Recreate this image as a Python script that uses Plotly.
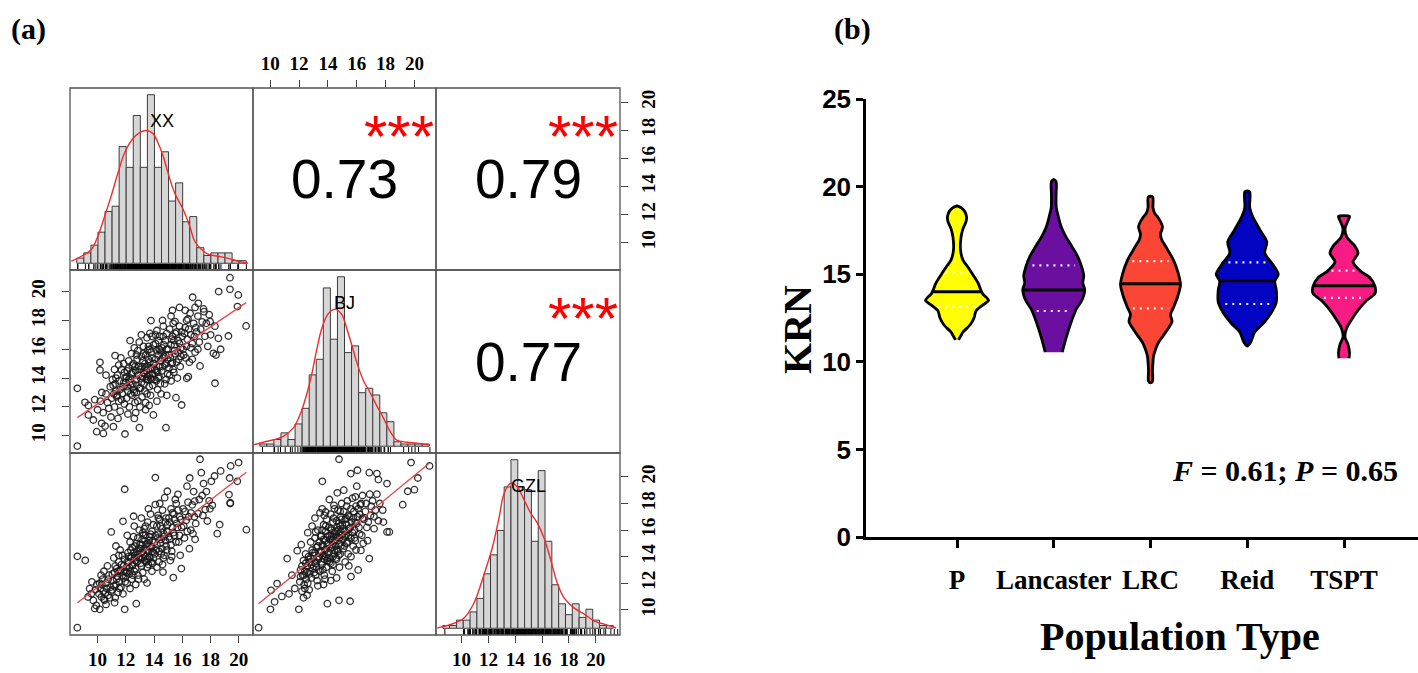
import numpy as np
import plotly.graph_objects as go

W, H = 1418, 673

# ======================= DATA: panel (a) =======================
variables = ["XX", "BJ", "GZL"]
axis_ticks = [10, 12, 14, 16, 18, 20]
variable_range = {"XX": [8.05, 21.0], "BJ": [8.8, 21.5], "GZL": [8.1, 21.8]}

correlations = {("XX", "BJ"): 0.73, ("XX", "GZL"): 0.79, ("BJ", "GZL"): 0.77}
significance = "***"

hist_bin_width = 0.5
hist_first_break = {"XX": 8.5, "BJ": 9.0, "GZL": 8.5}
hist_counts_xx = [2, 4, 7, 12, 20, 22, 45, 37, 57, 37, 65, 37, 43, 24, 31, 16, 18, 6, 3, 4, 4, 4, 1, 1]
hist_counts_bj = [1, 1, 3, 6, 3, 10, 17, 32, 39, 71, 48, 76, 42, 45, 24, 26, 23, 15, 11, 2, 1, 1, 1, 1]
hist_counts_gzl = [1, 1, 3, 3, 6, 11, 20, 27, 36, 52, 62, 52, 51, 32, 58, 32, 16, 9, 5, 9, 4, 7, 3, 1, 1]

density_xx_x = [8.11, 8.82, 9.53, 10.0, 10.48, 10.94, 11.42, 11.89, 12.48, 12.96, 13.42, 13.9, 14.25,
                14.61, 14.96, 15.43, 16.02, 16.5, 16.85, 17.32, 17.79, 18.5, 19.21, 19.92, 20.63]
density_xx_y = [0.8, 2.7, 5.3, 10.5, 18.2, 26.0, 34.9, 42.6, 48.1, 50.4, 51.2, 50.0, 46.5,
                41.5, 34.9, 27.1, 20.9, 14.3, 8.5, 5.4, 3.5, 2.7, 1.9, 0.8, 0.0]
density_bj_x = [8.54, 9.25, 9.96, 10.67, 11.37, 11.85, 12.32, 12.68, 13.03, 13.39, 13.86, 14.33, 14.8,
                15.16, 15.51, 15.86, 16.33, 16.81, 17.28, 17.75, 18.22, 18.7, 19.41, 20.11, 21.06]
density_bj_y = [0.6, 1.8, 2.9, 4.4, 8.2, 14.1, 23.2, 32.3, 43.2, 52.8, 59.6, 61.4, 59.2,
                52.8, 45.5, 37.8, 29.6, 24.1, 18.2, 12.7, 6.8, 2.7, 1.8, 1.4, 0.5]
density_gzl_x = [8.1, 9.08, 10.06, 10.79, 11.53, 12.14, 12.63, 13.0, 13.49, 13.98, 14.47, 14.96,
                 15.45, 15.94, 16.43, 16.92, 17.41, 18.15, 18.88, 19.62, 20.35, 21.21]
density_gzl_y = [0.1, 1.4, 3.8, 9.4, 19.9, 29.8, 40.8, 49.7, 53.4, 51.9, 47.1, 42.3,
                 38.6, 33.0, 24.9, 16.3, 11.1, 7.4, 5.2, 2.6, 1.5, 0.1]

# scatter points (XX, BJ)
pts_xx_bj = [
    (8.57, 9.28), (8.57, 13.29), (9.11, 12.32), (9.35, 12.1), (9.35, 11.44), (9.7, 11.09), (9.94, 10.28),
    (10.41, 10.16), (10.53, 10.67), (10.29, 10.86), (11.12, 10.63), (11.94, 10.12), (12.96, 10.56),
    (13.95, 11.44), (14.84, 10.56), (10.17, 15.09), (10.17, 14.56), (10.6, 14.21), (11.24, 15.56),
    (13.78, 17.99), (14.42, 15.95), (15.48, 17.92), (16.73, 19.61), (17.13, 19.19), (17.53, 18.61),
    (17.96, 17.92), (18.57, 20.0), (19.37, 20.16), (19.37, 20.97), (19.96, 19.77), (19.9, 18.96),
    (20.51, 17.62), (19.26, 16.92), (18.71, 16.0), (18.31, 13.64), (18.38, 15.6), (18.55, 16.76),
    (18.2, 15.72), (17.25, 14.84), (16.31, 13.98), (15.55, 12.64), (15.95, 12.13), (16.42, 14.1),
    (9.8, 12.5), (10.0, 11.8), (10.2, 12.4), (10.4, 11.6), (10.6, 12.9), (10.8, 11.9), (10.9, 13.4),
    (10.7, 12.3), (10.3, 13.0), (10.95, 11.3),
    (11.0, 12.6), (11.1, 13.5), (11.2, 12.0), (11.3, 13.1), (11.4, 14.2), (11.5, 12.4), (11.55, 13.8),
    (11.6, 11.7), (11.7, 14.6), (11.75, 12.9), (11.8, 13.4), (11.85, 15.0), (11.9, 12.2), (11.95, 14.0),
    (11.2, 14.6), (11.45, 11.2), (11.65, 15.4), (11.35, 12.7),
    (12.0, 13.7), (12.05, 12.6), (12.1, 14.5), (12.15, 13.1), (12.2, 15.2), (12.25, 12.0), (12.3, 14.0),
    (12.35, 13.5), (12.4, 15.7), (12.45, 12.8), (12.5, 14.4), (12.55, 13.2), (12.6, 16.1), (12.65, 14.8),
    (12.7, 11.6), (12.75, 13.9), (12.8, 15.3), (12.85, 12.4), (12.9, 14.2), (12.95, 16.5), (12.3, 16.6),
    (12.6, 11.2), (12.15, 11.5), (12.85, 15.9), (12.45, 14.9), (12.75, 13.0),
    (13.0, 14.6), (13.05, 13.3), (13.1, 15.5), (13.15, 12.7), (13.2, 14.1), (13.25, 16.2), (13.3, 13.6),
    (13.35, 15.0), (13.4, 12.3), (13.45, 14.5), (13.5, 16.8), (13.55, 13.9), (13.6, 15.3), (13.65, 14.2),
    (13.7, 17.1), (13.75, 12.8), (13.8, 15.8), (13.85, 14.7), (13.9, 13.5), (13.95, 16.3), (13.1, 17.0),
    (13.4, 11.8), (13.65, 12.1), (13.25, 14.4), (13.55, 15.9), (13.85, 16.9), (13.0, 12.0), (13.75, 14.0),
    (14.0, 15.0), (14.05, 13.9), (14.1, 16.4), (14.15, 14.5), (14.2, 17.3), (14.25, 13.2), (14.3, 15.6),
    (14.35, 14.1), (14.4, 16.9), (14.45, 15.2), (14.5, 12.9), (14.55, 16.1), (14.6, 14.8), (14.65, 17.6),
    (14.7, 15.5), (14.75, 13.6), (14.8, 16.6), (14.85, 15.0), (14.9, 17.1), (14.95, 14.3), (14.2, 12.4),
    (14.6, 18.0), (14.35, 16.0), (14.9, 12.8),
    (15.0, 16.0), (15.05, 14.7), (15.1, 17.4), (15.15, 15.4), (15.2, 13.8), (15.25, 16.7), (15.3, 15.1),
    (15.35, 17.8), (15.4, 14.4), (15.45, 16.3), (15.5, 15.7), (15.6, 17.2), (15.65, 14.0), (15.7, 16.6),
    (15.75, 15.3), (15.8, 17.6), (15.85, 14.8), (15.9, 16.1), (15.2, 18.3),
    (16.0, 16.9), (16.1, 15.6), (16.2, 17.5), (16.3, 16.2), (16.4, 18.1), (16.5, 15.1), (16.6, 17.0),
    (16.7, 16.4), (16.8, 17.8), (16.9, 15.8), (16.55, 18.5),
    (17.0, 17.2), (17.2, 16.5), (17.4, 17.9), (17.6, 16.9), (17.8, 16.2), (17.5, 18.8), (18.0, 17.0),
    (18.3, 17.6), (17.1, 18.3), (16.9, 18.9), (16.2, 18.7), (15.8, 18.9), (15.3, 18.7),
    (11.05, 13.9), (11.15, 12.9), (11.25, 13.6), (11.4, 12.8), (11.5, 14.9), (11.6, 13.2), (11.7, 12.5),
    (11.85, 13.7), (11.9, 14.4), (11.3, 14.0),
    (12.05, 14.1), (12.1, 13.4), (12.2, 14.7), (12.25, 13.7), (12.35, 12.9), (12.4, 14.3), (12.5, 13.6),
    (12.55, 15.0), (12.6, 13.0), (12.7, 14.5), (12.75, 15.6), (12.8, 13.5), (12.9, 14.8), (12.95, 13.3),
    (12.2, 13.9), (12.65, 12.3),
    (13.05, 14.0), (13.1, 13.7), (13.15, 14.8), (13.2, 15.2), (13.3, 14.3), (13.35, 13.1), (13.4, 15.6),
    (13.45, 13.9), (13.5, 14.8), (13.55, 14.1), (13.6, 16.2), (13.65, 13.4), (13.7, 15.1), (13.75, 14.6),
    (13.8, 13.9), (13.85, 15.4), (13.9, 14.3), (13.95, 15.0), (13.25, 15.7), (13.5, 12.9), (13.7, 16.0),
    (13.35, 14.7),
    (14.05, 14.6), (14.1, 15.3), (14.15, 13.8), (14.2, 15.9), (14.25, 14.4), (14.3, 16.6), (14.4, 14.8),
    (14.45, 13.6), (14.5, 15.8), (14.55, 14.5), (14.6, 15.4), (14.7, 16.3), (14.75, 14.9), (14.8, 15.6),
    (14.85, 13.9), (14.9, 16.0), (14.95, 15.3), (14.3, 14.0), (14.65, 16.9), (14.1, 17.0),
    (15.05, 15.6), (15.1, 14.2), (15.2, 16.3), (15.25, 15.0), (15.3, 16.9), (15.35, 14.6), (15.45, 15.9),
    (15.5, 17.1), (15.6, 15.1), (15.7, 15.8), (15.8, 16.4), (15.9, 15.5), (15.95, 17.2), (15.4, 16.6),
    (16.05, 16.0), (16.15, 17.1), (16.25, 15.4), (16.35, 16.7), (16.45, 17.4), (16.6, 16.1), (16.7, 15.3),
    (16.85, 16.9), (16.95, 17.5), (16.3, 18.0),
    (17.1, 16.0), (17.3, 17.4), (17.7, 17.8), (17.9, 18.4),
]

# scatter points (XX, GZL)
pts_xx_gzl = [
    (8.57, 8.65), (8.57, 14.02), (9.13, 13.72), (9.32, 10.96), (9.44, 11.59), (9.56, 11.21), (9.91, 10.33),
    (9.7, 10.7), (9.85, 11.5), (9.6, 12.1), (9.95, 11.9), (9.8, 10.1),
    (10.15, 10.03), (10.27, 10.96), (10.5, 10.71), (10.74, 11.09), (10.2, 11.6), (10.35, 12.3), (10.4, 11.4),
    (10.6, 12.0), (10.55, 11.25), (10.8, 12.6), (10.9, 11.7), (10.45, 12.9), (10.7, 13.3), (10.97, 15.86),
    (10.85, 10.9), (10.25, 12.6),
    (11.21, 10.53), (11.05, 11.5), (11.1, 12.2), (11.2, 12.8), (11.3, 11.9), (11.35, 13.1), (11.4, 12.5),
    (11.45, 11.3), (11.5, 13.6), (11.55, 12.1), (11.6, 12.9), (11.65, 11.7), (11.7, 13.4), (11.75, 14.1),
    (11.8, 16.66), (11.85, 12.4), (11.9, 13.8), (11.92, 10.03), (11.92, 19.07), (11.95, 12.9), (11.15, 13.9),
    (11.6, 14.5), (11.3, 14.8), (11.8, 11.2),
    (12.05, 13.2), (12.1, 12.0), (12.15, 14.3), (12.2, 13.6), (12.25, 12.7), (12.3, 15.1), (12.35, 13.9),
    (12.4, 12.3), (12.45, 14.7), (12.5, 13.4), (12.55, 17.04), (12.55, 15.5), (12.6, 12.9), (12.65, 14.1),
    (12.7, 13.7), (12.74, 10.46), (12.75, 15.0), (12.8, 14.4), (12.85, 12.6), (12.9, 13.9), (12.95, 16.0),
    (12.3, 11.6), (12.1, 15.6), (12.6, 16.3), (12.85, 15.4), (12.4, 14.0), (12.0, 12.5), (12.7, 11.9),
    (13.05, 14.6), (13.1, 13.3), (13.15, 15.3), (13.2, 12.8), (13.25, 14.2), (13.3, 16.1), (13.35, 13.7),
    (13.4, 15.6), (13.45, 14.9), (13.5, 12.02), (13.52, 13.2), (13.55, 16.6), (13.6, 14.4), (13.65, 15.2),
    (13.7, 13.9), (13.75, 17.2), (13.8, 14.7), (13.85, 15.9), (13.9, 13.5), (13.95, 16.4), (13.1, 16.9),
    (13.3, 12.3), (13.6, 17.6), (13.85, 12.9), (13.2, 15.8), (13.4, 14.0), (13.7, 15.5), (13.95, 14.3),
    (13.55, 13.8), (13.0, 13.9),
    (14.05, 15.1), (14.09, 17.92), (14.09, 19.95), (14.15, 14.5), (14.2, 16.3), (14.28, 17.11), (14.3, 15.7),
    (14.35, 13.6), (14.4, 16.8), (14.45, 15.0), (14.5, 14.2), (14.55, 16.1), (14.6, 17.5), (14.63, 12.84),
    (14.7, 15.5), (14.75, 18.44), (14.8, 16.6), (14.85, 14.8), (14.9, 15.9), (14.94, 18.92), (14.98, 15.86),
    (14.2, 13.2), (14.65, 13.9), (14.4, 18.0),
    (15.05, 16.9), (15.1, 15.3), (15.2, 17.6), (15.25, 14.4), (15.3, 16.2), (15.36, 12.42), (15.4, 17.2),
    (15.45, 15.6), (15.5, 18.3), (15.57, 17.99), (15.6, 16.5), (15.69, 18.69), (15.75, 15.1), (15.8, 17.0),
    (15.85, 14.1), (15.93, 13.1), (15.95, 16.2), (15.15, 13.7),
    (16.05, 17.6), (16.15, 15.4), (16.28, 16.73), (16.33, 19.3), (16.4, 18.1), (16.52, 19.92), (16.6, 17.3),
    (16.75, 15.73), (16.8, 18.9), (16.87, 18.17), (16.95, 16.5), (16.5, 14.6),
    (17.11, 17.24), (17.25, 21.33), (17.34, 20.32), (17.4, 18.6), (17.62, 17.54), (17.77, 16.68), (17.5, 19.5),
    (17.9, 18.2),
    (18.05, 19.67), (18.12, 17.86), (18.28, 20.07), (18.47, 15.73), (18.64, 16.41), (18.71, 20.45),
    (19.3, 18.67), (19.35, 19.92), (19.39, 18.06), (19.42, 20.83), (19.89, 19.67), (19.98, 21.08),
    (20.53, 16.03), (19.39, 18.0),
    (10.1, 11.2), (10.3, 11.9), (10.45, 10.8), (10.65, 11.6), (10.75, 12.3), (10.95, 11.4), (10.15, 12.0),
    (10.6, 10.4),
    (11.05, 12.7), (11.15, 11.8), (11.25, 13.3), (11.35, 12.3), (11.45, 12.9), (11.55, 11.6), (11.65, 13.0),
    (11.75, 12.6), (11.85, 13.3), (11.95, 12.1), (11.5, 14.1), (11.25, 10.9),
    (12.05, 12.8), (12.1, 13.6), (12.2, 14.0), (12.3, 12.9), (12.35, 14.5), (12.45, 13.3), (12.5, 12.6),
    (12.6, 13.9), (12.65, 14.8), (12.7, 13.1), (12.8, 13.6), (12.85, 14.2), (12.9, 12.3), (12.95, 14.6),
    (12.25, 13.2), (12.55, 14.3),
    (13.05, 13.5), (13.1, 14.3), (13.15, 14.9), (13.2, 13.9), (13.3, 14.6), (13.35, 15.2), (13.45, 13.6),
    (13.5, 14.5), (13.55, 15.0), (13.6, 13.4), (13.65, 14.0), (13.75, 15.7), (13.8, 13.6), (13.85, 14.4),
    (13.9, 15.2), (13.95, 13.9), (13.4, 16.3), (13.7, 14.8), (13.25, 15.6), (13.0, 14.9),
    (14.05, 14.2), (14.1, 15.6), (14.2, 14.9), (14.25, 15.4), (14.35, 14.4), (14.45, 16.3), (14.5, 15.3),
    (14.55, 14.6), (14.65, 15.8), (14.7, 14.1), (14.8, 15.2), (14.85, 16.9), (14.9, 14.5), (14.95, 16.4),
    (14.3, 16.9), (14.6, 13.4),
    (15.05, 15.5), (15.1, 16.6), (15.2, 14.9), (15.3, 17.3), (15.35, 15.8), (15.45, 16.8), (15.55, 15.1),
    (15.65, 16.2), (15.7, 17.5), (15.8, 15.6), (15.9, 16.8), (15.25, 14.0),
    (16.1, 16.3), (16.2, 17.4), (16.35, 15.9), (16.45, 17.0), (16.6, 16.0), (16.7, 17.9), (16.85, 17.0),
    (16.9, 15.3),
    (17.2, 18.3), (17.45, 17.1), (17.7, 18.9), (17.95, 17.6),
]

# scatter points (BJ, GZL)
pts_bj_gzl = [
    (9.19, 8.65), (10.01, 10.03), (10.05, 11.46), (10.47, 11.97), (10.3, 10.6), (10.8, 11.0), (11.17, 13.85),
    (11.98, 10.03), (11.3, 11.2), (11.5, 12.6), (11.87, 14.45), (11.7, 11.6), (13.96, 10.46), (14.77, 10.71),
    (15.54, 10.64), (13.61, 19.67), (14.77, 21.33), (13.84, 17.36), (14.42, 17.86), (13.15, 15.86),
    (15.59, 20.25), (16.05, 20.5), (16.87, 20.32), (17.4, 20.25), (17.5, 19.8), (18.1, 19.5), (17.4, 18.7),
    (16.9, 18.7), (16.4, 18.6), (15.9, 18.5), (16.0, 19.3), (19.77, 21.08), (21.05, 20.83), (20.24, 19.92),
    (20.0, 19.04), (19.54, 18.92), (19.19, 17.91), (18.26, 15.86), (18.1, 15.86), (17.2, 16.1), (16.75, 15.2),
    (16.29, 14.47), (16.87, 13.85), (16.1, 13.0), (15.6, 12.5),
    (12.05, 12.1), (12.1, 13.0), (12.2, 11.4), (12.25, 12.6), (12.3, 13.7), (12.35, 11.9), (12.4, 12.9),
    (12.45, 14.2), (12.5, 12.3), (12.15, 14.9), (12.3, 10.9),
    (12.55, 13.3), (12.6, 12.0), (12.65, 14.0), (12.7, 12.7), (12.75, 13.6), (12.8, 15.1), (12.85, 12.4),
    (12.9, 14.5), (12.95, 13.1), (12.6, 15.8), (12.7, 11.5), (12.9, 16.3), (12.8, 13.9), (12.55, 11.1),
    (13.0, 14.1), (13.05, 12.8), (13.1, 15.4), (13.15, 13.5), (13.2, 14.7), (13.25, 12.2), (13.3, 16.0),
    (13.35, 13.9), (13.4, 15.1), (13.45, 12.9), (13.5, 14.4), (13.1, 16.9), (13.3, 11.8), (13.45, 17.3),
    (13.2, 13.2), (13.4, 14.0),
    (13.55, 15.6), (13.6, 13.4), (13.65, 14.8), (13.7, 16.4), (13.75, 12.6), (13.8, 15.2), (13.85, 14.0),
    (13.9, 16.8), (13.95, 13.7), (13.6, 17.6), (13.7, 11.9), (13.85, 15.9), (13.55, 14.3), (13.9, 14.6),
    (13.75, 17.1), (13.65, 13.0), (13.95, 15.5), (13.8, 12.3),
    (14.0, 15.0), (14.05, 16.2), (14.1, 13.6), (14.15, 14.6), (14.2, 17.2), (14.25, 15.5), (14.3, 12.9),
    (14.35, 16.6), (14.4, 14.2), (14.45, 15.8), (14.1, 18.3), (14.2, 12.2), (14.3, 14.9), (14.45, 17.6),
    (14.0, 13.9), (14.25, 16.0), (14.35, 13.4), (14.15, 15.3),
    (14.5, 15.2), (14.55, 13.9), (14.6, 16.7), (14.65, 14.5), (14.7, 17.5), (14.75, 15.7), (14.8, 13.2),
    (14.85, 16.3), (14.9, 14.8), (14.95, 18.0), (14.6, 12.4), (14.7, 16.0), (14.8, 15.0), (14.9, 17.0),
    (14.55, 15.9), (14.75, 14.1), (14.65, 18.8), (14.95, 15.6),
    (15.0, 16.4), (15.05, 14.6), (15.1, 17.4), (15.15, 15.5), (15.2, 13.6), (15.25, 16.9), (15.3, 15.0),
    (15.35, 18.2), (15.4, 14.2), (15.45, 16.1), (15.1, 19.0), (15.3, 17.8), (15.2, 15.9), (15.45, 13.3),
    (15.5, 17.0), (15.6, 15.4), (15.65, 16.6), (15.7, 18.4), (15.75, 14.8), (15.8, 17.4), (15.85, 16.0),
    (15.9, 15.2), (15.95, 17.8), (15.6, 14.0),
    (16.0, 16.5), (16.1, 17.6), (16.2, 15.7), (16.3, 18.0), (16.4, 16.9), (16.45, 15.0), (16.2, 17.2),
    (16.6, 17.4), (16.8, 16.6), (17.0, 17.8), (17.2, 17.0), (17.5, 16.7), (17.8, 17.5),
    (12.1, 12.5), (12.2, 13.3), (12.35, 12.6), (12.45, 13.5), (12.55, 12.8), (12.65, 13.8), (12.75, 12.9),
    (12.85, 13.4), (12.95, 14.3), (12.4, 11.6),
    (13.05, 13.6), (13.1, 14.3), (13.15, 12.6), (13.25, 13.8), (13.3, 14.8), (13.35, 13.0), (13.45, 14.4),
    (13.5, 15.5),
    (13.55, 13.6), (13.6, 14.9), (13.65, 14.1), (13.7, 15.3), (13.75, 13.8), (13.8, 14.5), (13.85, 16.3),
    (13.9, 13.2), (13.95, 14.9), (13.6, 16.0),
    (14.05, 14.3), (14.1, 15.6), (14.15, 13.9), (14.2, 16.1), (14.25, 14.7), (14.3, 15.3), (14.35, 14.0),
    (14.4, 16.9), (14.45, 14.5), (14.2, 13.5), (14.4, 15.5),
    (14.55, 14.8), (14.6, 15.5), (14.65, 16.2), (14.7, 14.4), (14.75, 16.5), (14.8, 15.4), (14.85, 14.2),
    (14.9, 15.9), (14.95, 16.8), (14.6, 13.8), (14.85, 17.4),
    (15.05, 15.3), (15.1, 16.1), (15.15, 14.8), (15.25, 15.6), (15.3, 16.4), (15.35, 15.1), (15.4, 17.1),
    (15.45, 15.6), (15.2, 16.8),
    (15.55, 16.2), (15.6, 17.6), (15.7, 15.8), (15.75, 16.9), (15.85, 15.4), (15.9, 16.6), (15.95, 14.5),
    (16.05, 17.0), (16.15, 16.2), (16.25, 17.9), (16.35, 15.6), (16.5, 16.8), (16.65, 18.0), (16.7, 16.2),
    (16.95, 17.1),
    (17.1, 18.2), (17.3, 17.5), (17.6, 18.0), (17.85, 16.6),
]

# ======================= DATA: panel (b) =======================
violin_categories = ["P", "Lancaster", "LRC", "Reid", "TSPT"]
violin_colors = ["#ffff00", "#6b0fa0", "#fb4535", "#0303c2", "#f81b84"]
# KRN level and relative density (half width)
krn_p = [11.25, 11.5, 11.7, 12.1, 12.5, 12.9, 13.25, 13.5, 13.9, 14.5, 15.0, 15.4, 15.8, 16.4, 17.1, 17.6, 18.0, 18.3, 18.6, 18.8, 18.9]
dens_p = [1.5, 4, 6, 13, 17, 19, 26, 31.5, 25.5, 21, 15.5, 11, 6, 3.5, 4, 6, 9, 9.5, 7.5, 4, 0]
krn_lancaster = [10.55, 11.4, 12.2, 13.0, 13.5, 14.1, 14.5, 14.9, 15.4, 16.0, 16.6, 17.1, 17.7, 18.3, 18.8, 19.5, 20.3, 20.4]
dens_lancaster = [8.5, 12.5, 17, 22.5, 28, 31, 29, 30, 28, 24, 18, 12.5, 7.5, 4.5, 2.5, 2.3, 2.3, 0]
krn_lrc = [8.8, 8.9, 9.5, 10.0, 10.3, 10.7, 11.1, 11.8, 12.3, 12.7, 13.1, 13.7, 14.4, 15.0, 15.8, 16.6, 17.0, 17.3, 17.7, 18.2, 18.5, 18.8, 19.4, 19.45]
dens_lrc = [0, 2, 2, 2.5, 3, 5, 8, 16.5, 21.5, 20, 23, 27, 30, 28, 23, 15, 11, 10, 12, 8, 4, 2.5, 2.3, 0]
krn_reid = [10.9, 11.1, 11.7, 12.2, 12.8, 13.4, 14.1, 14.6, 15.0, 15.6, 16.2, 16.85, 17.5, 18.3, 18.8, 19.7, 19.75]
dens_reid = [0, 3.3, 7.5, 16, 24, 29, 29, 27.5, 31, 25, 17.5, 19.5, 13, 5.3, 2.5, 2.5, 0]
krn_tspt = [10.2, 10.5, 11.0, 11.4, 11.9, 12.4, 12.95, 13.5, 13.9, 14.3, 14.8, 15.2, 15.7, 16.2, 16.6, 17.1, 17.6, 18.0, 18.3]
dens_tspt = [5, 5.5, 4, 1, 2.5, 7.5, 14, 22.5, 31, 31, 26, 16, 9, 14, 11, 3, 1, 3.5, 5.5]
violin_medians = [14.0, 14.1, 14.45, 14.63, 14.34]
violin_q1 = [13.15, 12.9, 13.05, 13.3, 13.65]
violin_q3 = [15.1, 15.5, 15.75, 15.67, 15.2]
krn_ticks = [0, 5, 10, 15, 20, 25]
anova_text = "<b><i>F</i> = 0.61; <i>P</i> = 0.65</b>"

# ======================= GEOMETRY / STYLE =======================
COLS = [(70, 253), (253, 436), (436, 620)]
ROWS = [(88, 270), (270, 453), (453, 635)]


def fx(p):
    return p / W


def fy(p):
    return 1 - p / H


def xdom(c):
    return [fx(COLS[c][0]), fx(COLS[c][1])]


def ydom(r):
    return [fy(ROWS[r][1]), fy(ROWS[r][0])]


def nm(n):
    return "" if n == 1 else str(n)


SERIF = "Liberation Serif"
SANS = "Liberation Sans"
TICKFONT_A = dict(family=SERIF, size=19, color="black", weight="bold")
HIDDEN = dict(showgrid=False, zeroline=False, showticklabels=False, ticks="", showline=False,
              fixedrange=True, automargin=False)


def tick_axis(**kw):
    d = dict(showgrid=False, zeroline=False, showline=False, fixedrange=True, automargin=False,
             ticks="outside", ticklen=7, tickwidth=1.2, tickcolor="#444", tickmode="array",
             tickvals=axis_ticks, ticktext=[str(t) for t in axis_ticks], showticklabels=True,
             tickfont=TICKFONT_A, ticklabelstandoff=3)
    d.update(kw)
    return d


fig = go.Figure()
layout = {}
annotations = []
shapes = []

hist_counts = {"XX": hist_counts_xx, "BJ": hist_counts_bj, "GZL": hist_counts_gzl}
density = {"XX": (density_xx_x, density_xx_y), "BJ": (density_bj_x, density_bj_y),
           "GZL": (density_gzl_x, density_gzl_y)}
scatter_points = {("XX", "BJ"): pts_xx_bj, ("XX", "GZL"): pts_xx_gzl, ("BJ", "GZL"): pts_bj_gzl}
rug_values = {"XX": [p[0] for p in pts_xx_bj], "BJ": [p[0] for p in pts_bj_gzl],
              "GZL": [p[1] for p in pts_xx_gzl]}

for r in range(3):
    for c in range(3):
        n = r * 3 + c + 1
        xa, ya = "x" + nm(n), "y" + nm(n)
        xax = dict(domain=xdom(c), anchor=ya, **HIDDEN)
        yax = dict(domain=ydom(r), anchor=xa, **HIDDEN)
        if r == c:
            v = variables[r]
            counts = np.array(hist_counts[v], dtype=float)
            b0 = hist_first_break[v]
            nb = len(counts)
            bN = b0 + nb * hist_bin_width
            S = bN - b0
            M = counts.max()
            centers = b0 + hist_bin_width * (np.arange(nb) + 0.5)
            xax["range"] = [b0 - 0.04 * S, bN + 0.04 * S]
            yax["range"] = [-0.04 * M, 1.04 * M]
            fig.add_trace(go.Bar(x=centers, y=counts, width=hist_bin_width, xaxis=xa, yaxis=ya,
                                 marker=dict(color="#d6d6d6", line=dict(color="#3c3c3c", width=1)),
                                 hoverinfo="skip"))
            dx, dy = density[v]
            fig.add_trace(go.Scatter(x=dx, y=dy, mode="lines", xaxis=xa, yaxis=ya,
                                     line=dict(color="#f22b2b", width=1.4, shape="spline"),
                                     hoverinfo="skip"))
            rx, ry = [], []
            for val in rug_values[v]:
                rx += [val, val, None]
                ry += [-0.04 * M, -0.04 * M + 0.0324 * 1.08 * M, None]
            fig.add_trace(go.Scatter(x=rx, y=ry, mode="lines", xaxis=xa, yaxis=ya,
                                     line=dict(color="black", width=1), hoverinfo="skip"))
            annotations.append(dict(x=fx((COLS[c][0] + COLS[c][1]) / 2), y=fy(ROWS[r][0] + 33),
                                    xref="paper", yref="paper", text=v, showarrow=False,
                                    font=dict(family=SANS, size=18, color="black"),
                                    xanchor="center", yanchor="middle"))
        elif r > c:
            xv, yv = variables[c], variables[r]
            pts = np.array(scatter_points[(xv, yv)])
            xax["range"] = variable_range[xv]
            yax["range"] = variable_range[yv]
            fig.add_trace(go.Scatter(x=pts[:, 0], y=pts[:, 1], mode="markers", xaxis=xa, yaxis=ya,
                                     marker=dict(symbol="circle-open", size=6.5, color="rgba(25,25,25,0.9)",
                                                 line=dict(width=1.3)),
                                     hoverinfo="skip"))
            k, b = np.polyfit(pts[:, 0], pts[:, 1], 1)
            lx = np.array([pts[:, 0].min(), pts[:, 0].max()])
            fig.add_trace(go.Scatter(x=lx, y=k * lx + b, mode="lines", xaxis=xa, yaxis=ya,
                                     line=dict(color="#e8474f", width=1.3), hoverinfo="skip"))
        else:
            xv, yv = variables[r], variables[c]
            xax["range"] = variable_range[variables[c]]
            yax["range"] = variable_range[variables[r]]
            fig.add_trace(go.Scatter(x=[None], y=[None], xaxis=xa, yaxis=ya, hoverinfo="skip"))
            rv = correlations[(xv, yv)]
            cx = (COLS[c][0] + COLS[c][1]) / 2
            cy = (ROWS[r][0] + ROWS[r][1]) / 2
            annotations.append(dict(x=fx(cx), y=fy(cy), xref="paper", yref="paper",
                                    text=f"{rv:.2f}", showarrow=False,
                                    font=dict(family=SANS, size=55, color="black"),
                                    xanchor="center", yanchor="middle"))
            sx = COLS[c][0] + 0.8 * (COLS[c][1] - COLS[c][0])
            sy = ROWS[r][1] - 0.8 * (ROWS[r][1] - ROWS[r][0]) + 12
            annotations.append(dict(x=fx(sx), y=fy(sy), xref="paper", yref="paper",
                                    text=significance, showarrow=False,
                                    font=dict(family=SANS, size=60, color="#ff0000"),
                                    xanchor="center", yanchor="middle"))
        # outer tick axes (R pairs style)
        if (r, c) == (0, 1):
            xax.update(tick_axis(side="top", ticklabelstandoff=2))
        if (r, c) == (0, 2):
            yax.update(tick_axis(side="right", tickangle=-90, ticklabelstandoff=4))
        if (r, c) == (1, 0):
            yax.update(tick_axis(side="left", tickangle=-90, ticklabelstandoff=9))
        if (r, c) == (2, 0):
            xax.update(tick_axis(side="bottom", ticklabelstandoff=0))
        layout["xaxis" + nm(n)] = xax
        layout["yaxis" + nm(n)] = yax
        shapes.append(dict(type="rect", xref="paper", yref="paper", x0=fx(COLS[c][0]), x1=fx(COLS[c][1]),
                           y0=fy(ROWS[r][1]), y1=fy(ROWS[r][0]), line=dict(color="#555", width=1.3),
                           layer="above"))

# overlay tick axes for GZL (bottom / right of last diagonal panel)
layout["xaxis10"] = tick_axis(domain=xdom(2), anchor="y10", range=variable_range["GZL"], side="bottom",
                              ticklabelstandoff=0)
layout["yaxis10"] = tick_axis(domain=ydom(2), anchor="x10", range=variable_range["GZL"], side="right",
                              tickangle=-90, ticklabelstandoff=4)
fig.add_trace(go.Scatter(x=[None], y=[None], xaxis="x10", yaxis="y10", hoverinfo="skip"))

# ======================= panel (b): violins =======================
VX0, VX1 = 866, 1418
VY0, VY1 = 99, 537
CAT_PX = 96.75
layout["xaxis11"] = dict(domain=[fx(VX0), fx(VX1)], anchor="y11", range=[-91 / CAT_PX, 4 + 74 / CAT_PX],
                         showgrid=False, zeroline=False, showline=True, linewidth=2.5, linecolor="black",
                         ticks="outside", ticklen=8, tickwidth=2.5, tickcolor="black", tickmode="array",
                         tickvals=list(range(len(violin_categories))), ticktext=violin_categories,
                         tickfont=dict(family=SERIF, size=27, color="black", weight="bold"),
                         ticklabelstandoff=9, fixedrange=True, automargin=False)
layout["yaxis11"] = dict(domain=[fy(VY1), fy(VY0)], anchor="x11", range=[0, 25], showgrid=False,
                         zeroline=False, showline=True, linewidth=2.5, linecolor="black", ticks="outside",
                         ticklen=7, tickwidth=2.5, tickcolor="black", tickmode="array", tickvals=krn_ticks,
                         tickfont=dict(family=SANS, size=26, color="black", weight="bold"),
                         fixedrange=True, automargin=False)

profiles = [(krn_p, dens_p), (krn_lancaster, dens_lancaster), (krn_lrc, dens_lrc),
            (krn_reid, dens_reid), (krn_tspt, dens_tspt)]
for i, (kv, dv) in enumerate(profiles):
    kv = np.array(kv, dtype=float)
    wv = np.array(dv, dtype=float) / CAT_PX
    xs = np.concatenate([i + wv, (i - wv)[::-1]])
    ys = np.concatenate([kv, kv[::-1]])
    fig.add_trace(go.Scatter(x=xs, y=ys, mode="lines", fill="toself", fillcolor=violin_colors[i],
                             line=dict(color="black", width=2.8, shape="spline", smoothing=0.8),
                             xaxis="x11", yaxis="y11", hoverinfo="skip"))
    for q in (violin_q1[i], violin_q3[i]):
        wq = np.interp(q, kv, wv) * 0.78
        fig.add_trace(go.Scatter(x=[i - wq, i + wq], y=[q, q], mode="lines",
                                 line=dict(color="rgba(255,255,255,0.95)", width=2.2, dash="2px,5px"),
                                 xaxis="x11", yaxis="y11", hoverinfo="skip"))
    m = violin_medians[i]
    wm = np.interp(m, kv, wv)
    fig.add_trace(go.Scatter(x=[i - wm, i + wm], y=[m, m], mode="lines",
                             line=dict(color="black", width=3), xaxis="x11", yaxis="y11", hoverinfo="skip"))

annotations += [
    dict(x=fx(1285), y=fy(471), xref="paper", yref="paper", text=anova_text, showarrow=False,
         font=dict(family=SERIF, size=30, color="black"), xanchor="center", yanchor="middle"),
    dict(x=fx(1180), y=fy(636), xref="paper", yref="paper", text="<b>Population Type</b>", showarrow=False,
         font=dict(family=SERIF, size=40, color="black"), xanchor="center", yanchor="middle"),
    dict(x=fx(797), y=fy(330), xref="paper", yref="paper", text="<b>KRN</b>", showarrow=False,
         textangle=-90, font=dict(family=SERIF, size=40, color="black"), xanchor="center", yanchor="middle"),
    dict(x=fx(28), y=fy(29), xref="paper", yref="paper", text="<b>(a)</b>", showarrow=False,
         font=dict(family=SERIF, size=30, color="black"), xanchor="center", yanchor="middle"),
    dict(x=fx(853), y=fy(29), xref="paper", yref="paper", text="<b>(b)</b>", showarrow=False,
         font=dict(family=SERIF, size=30, color="black"), xanchor="center", yanchor="middle"),
]

fig.update_layout(**layout)
fig.update_layout(width=W, height=H, autosize=False,
                  margin=dict(l=0, r=0, t=0, b=0, pad=0, autoexpand=False),
                  paper_bgcolor="white", plot_bgcolor="rgba(0,0,0,0)", showlegend=False,
                  hovermode=False, barmode="overlay", annotations=annotations, shapes=shapes)

fig.write_html("out.html", config={"displayModeBar": False},
               post_script="document.body.style.margin='0';document.body.style.overflow='hidden';")
